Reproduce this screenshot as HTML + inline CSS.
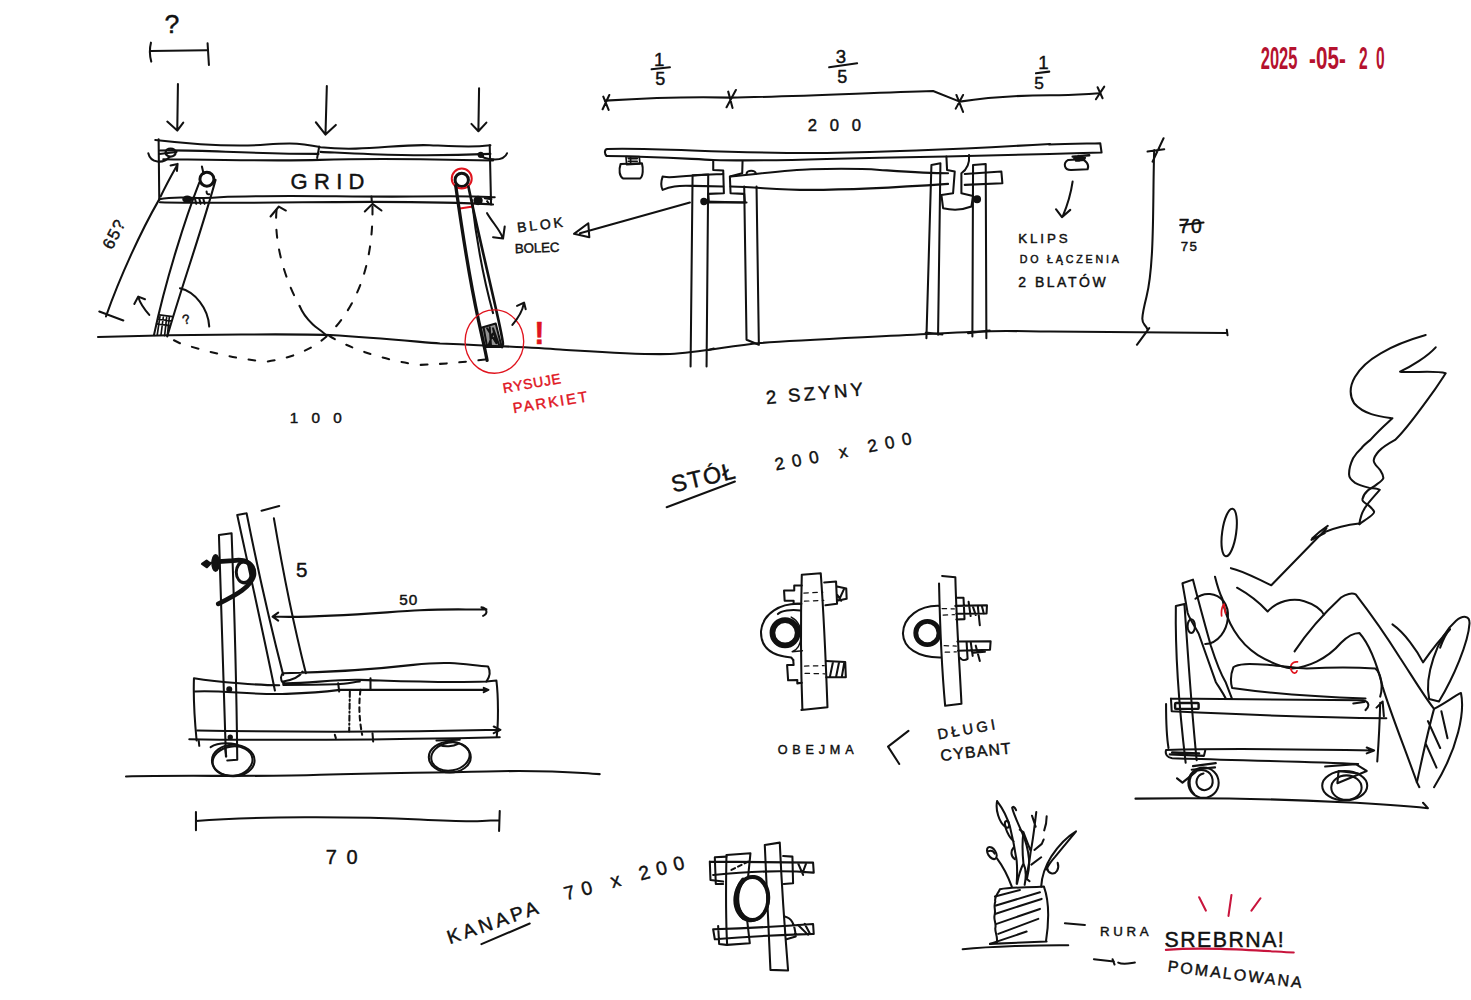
<!DOCTYPE html>
<html><head><meta charset="utf-8"><title>Szkic - stół GRID, kanapa</title>
<style>
html,body{margin:0;padding:0;background:#fff;}
svg{display:block}
.k{fill:none;stroke:#111;stroke-linecap:round;stroke-linejoin:round}
.r{fill:none;stroke:#e0141e;stroke-linecap:round;stroke-linejoin:round}
.d{stroke-dasharray:22 22}
.d2{stroke-dasharray:24 36}
text{font-family:"Liberation Sans","DejaVu Sans",sans-serif;fill:#111;stroke:#111}
.rt{fill:#e0141e;stroke:#e0141e}
</style></head>
<body>
<svg width="1471" height="1000" viewBox="0 0 1471 1000">
<rect width="1471" height="1000" fill="#fff"/>
<g class="k">
<g transform="translate(0,0) scale(1.00000)" stroke-width="2.05">
<path d="M98,337 C200,334 300,334 330,335 C380,338 420,342 440,343.5 C500,346 540,348 560,349.5 C600,352 640,355 670,354 C700,352 730,346 760,343 C800,340 850,338 927,334 S1000,331 1050,331.5 S1150,332 1226,333"/>

</g>
<g transform="translate(80,0) scale(0.33311)" stroke-width="6.15">
<text stroke-width="1.35" x="254" y="98" font-size="80">?</text>
<path d="M213,128 Q206,155 214,185 M212,153 L380,151 M383,130 L387,195"/>
<path d="M294,252 L292,390 M262,365 L292,392 L310,368"/>
<path d="M741,258 L737,402 M708,367 L737,404 L768,375"/>
<path d="M1198,265 L1196,392 M1175,372 L1196,394 L1220,368"/>
<!-- blat -->
<path d="M226,420 C330,432 450,442 560,434 S680,436 722,442 C850,456 950,432 1050,436 S1180,442 1232,436"/>
<path d="M240,452 C350,448 500,462 716,462 M722,456 C850,462 1000,472 1232,462"/>
<path d="M250,478 C400,480 600,484 720,480 S1000,476 1240,482"/>
<path d="M718,440 L712,474"/>
<path d="M236,418 L238,600 M1230,436 L1234,614"/>
<path d="M205,460 C212,490 250,492 268,472 M238,462 L290,456"/><ellipse cx="272" cy="458" rx="15" ry="12" stroke-width="7"/>
<path d="M1196,464 C1215,480 1272,488 1282,460 M1196,462 l14,6" />
<circle cx="1203" cy="465" r="6" fill="#111"/>
<!-- box bottom -->
<path d="M238,598 C300,585 350,600 420,592 C600,584 800,592 1000,590 S1200,590 1245,592"/>
<path d="M240,607 C400,612 700,606 880,606 S1150,608 1240,614"/>
<path d="M875,590 L876,606"/>
<ellipse cx="322" cy="598" rx="12" ry="8" fill="#111"/>
<path d="M345,596 l4,16 M358,596 l4,16 M370,596 l4,16"/>
<circle cx="1195" cy="602" r="11" fill="#111"/>
<path d="M1215,595 l20,3 M1222,604 l6,8"/>
<!-- left leg -->
<circle cx="381" cy="538" r="21" stroke-width="9"/>
<path d="M366,500 L371,522 M380,575 q0,10 8,8"/>
<path d="M358,548 C318,650 257,840 222,1006 M407,540 C366,690 302,870 262,1010"/>
<!-- dim 65 -->
<path d="M237,600 C185,690 120,830 78,950 M58,935 L130,962"/>
<path d="M242,590 C258,555 275,525 292,495 M272,497 L293,492 L291,513"/>
<text stroke-width="1.35" transform="translate(96,752) rotate(-63)" font-size="50" letter-spacing="4">65?</text>
<!-- dashed arcs -->
<path class="d2" d="M590,630 C582,720 610,830 660,920"/>
<path d="M660,920 C672,950 690,965 700,975 S730,995 740,1008"/>
<path class="d2" d="M878,620 C880,760 850,900 745,1006"/>
<path d="M572,650 L597,620 L618,632 M855,635 L878,612 L905,632"/>
<text stroke-width="1.35" x="632" y="566" font-size="66" textLength="222">GRID</text>
<!-- right leg -->
<circle cx="1146" cy="540" r="20" stroke-width="9"/>
<circle class="r" cx="1146" cy="536" r="30" stroke-width="6"/>
<path class="r" d="M1140,626 L1180,620 L1176,606" stroke-width="6"/>
<path stroke-width="10" d="M1128,558 C1148,700 1172,850 1196,960 S1216,1050 1222,1082"/>
<path stroke-width="8" d="M1166,560 C1195,700 1232,850 1256,960 S1264,1020 1267,1042"/>
<path d="M1176,600 C1190,720 1215,850 1240,940"/>
<path d="M1222,640 C1240,670 1260,690 1268,712 M1240,712 L1270,716 L1275,680"/>
<text stroke-width="1.35" transform="translate(1314,698) rotate(-7)" font-size="42" textLength="138">BLOK</text>
<text stroke-width="1.35" transform="translate(1306,760) rotate(-2)" font-size="40" textLength="134">BOLEC</text>

</g>
<g transform="translate(80,200) scale(0.33311)" stroke-width="6.15">
<!-- foot hatch left -->
<path d="M238,345 L278,350 M234,358 L274,363 M230,372 L270,377 M240,350 L232,404 M250,352 L243,406 M260,353 L254,407 M268,353 L262,408" stroke-width="5"/>
<path d="M208,345 C195,330 182,315 175,292 M163,312 L175,290 L195,298"/>
<path d="M300,265 C345,275 385,325 388,380"/>
<text stroke-width="1.35" x="308" y="372" font-size="40" transform="rotate(-15 320 360)">?</text>
<path style="stroke-dasharray:20 38" d="M740,410 C700,445 640,475 560,485 C470,478 380,455 300,430 L264,412"/>
<path style="stroke-dasharray:20 38" d="M748,408 C800,440 900,480 1020,495 C1100,492 1160,486 1220,478"/>
<ellipse class="r" cx="1244" cy="425" rx="88" ry="95" stroke-width="4"/>
<path d="M1202,384 L1248,371 L1266,441 L1213,441 Z" style="fill:#111;fill-opacity:.45" stroke-width="6"/><path d="M1212,385 L1222,440 M1222,385 L1250,430 L1240,385 L1258,435 M1225,440 L1240,400 M1230,382 L1234,440" stroke-width="6"/>
<path d="M1298,375 C1315,355 1328,335 1332,312 M1312,318 L1333,308 L1338,328"/>
<text stroke-width="1.35" class="rt" x="1364" y="432" font-size="92" font-weight="bold">!</text>
<text stroke-width="1.35" class="rt" transform="translate(1272,580) rotate(-10)" font-size="42" textLength="176">RYSUJE</text>
<text stroke-width="1.35" class="rt" transform="translate(1302,640) rotate(-9)" font-size="44" textLength="225">PARKIET</text>
<text stroke-width="1.35" x="630" y="668" font-size="46" textLength="156">100</text>

</g>
<g transform="translate(560,30) scale(0.33311)" stroke-width="6.15">
<text stroke-width="1.35" x="282" y="108" font-size="56">1</text><path d="M275,118 L330,112"/><text stroke-width="1.35" x="286" y="166" font-size="54">5</text>
<text stroke-width="1.35" x="828" y="100" font-size="56">3</text><path d="M808,112 L892,100"/><text stroke-width="1.35" x="832" y="160" font-size="54">5</text>
<path d="M135,212 C250,205 400,200 510,203 C700,200 900,190 1120,183 L1200,215 C1300,200 1400,196 1471,196 S1580,192 1622,190"/>
<path d="M128,238 L148,195 M130,200 L146,240 M500,232 L528,180 M505,185 L518,234 M1188,236 L1210,195 M1190,195 L1210,246"/>
<text stroke-width="1.35" x="744" y="302" font-size="50" textLength="160">200</text>
<!-- top -->
<path d="M140,378 C132,370 134,358 142,357 C300,352 500,372 800,369 C1000,366 1200,358 1471,342"/>
<path d="M140,378 C300,380 400,388 460,390 S700,390 800,387 S1100,382 1160,380 S1300,376 1471,372"/>
<!-- clip left -->
<path d="M182,402 C176,420 178,440 190,446 L240,446 C250,440 250,415 246,400 Z"/>
<path d="M198,380 L238,380 L240,402 L200,404 Z M205,386 L232,386 M205,394 L232,394 M212,380 L212,402" stroke-width="5"/>
<!-- rail left -->
<path d="M460,392 L460,420 L490,422 L492,490 L445,492 L447,518 L555,518 L553,492 L512,490 L510,440 L547,430 L548,395"/>
<path d="M560,432 a12,8 0 0 1 28,0"/>
<!-- beam -->
<path d="M490,432 C450,434 400,436 360,440 S320,442 308,440 C303,455 303,470 308,480 C330,470 350,466 400,468 L490,470"/>
<path d="M512,440 C600,432 680,420 754,418 S900,416 960,420 S1100,430 1165,430 M512,470 C600,472 650,480 750,480 S1050,470 1165,462"/>
<path d="M1215,432 L1325,425 L1328,460 L1215,465"/>
<!-- legs -->
<path d="M398,436 L392,1010 M445,434 L440,1010 M398,436 L445,434 M440,962 l22,-6"/>
<path d="M553,470 L560,930 L597,945 L590,470"/>
<path d="M1100,925 L1115,405 L1142,400 L1135,915 M1098,908 l50,6"/>
<path d="M1238,920 L1240,405 L1278,402 L1280,925 M1225,910 l65,-8" />
<!-- rail right -->
<path d="M1160,380 L1162,420 L1185,425 L1180,490 L1145,495 L1150,535 C1180,542 1210,540 1235,530 L1240,498 L1205,490 L1205,430 C1220,420 1230,400 1228,375"/>
<circle cx="432" cy="515" r="8" fill="#111"/><circle cx="1252" cy="508" r="9" fill="#111"/>
<path d="M432,515 L560,518"/>
<path d="M390,518 L60,610 M85,580 L42,612 L88,622 Z"/>

</g>
<g transform="translate(981,30) scale(0.33311)" stroke-width="6.15">
<text stroke-width="1.35" x="172" y="118" font-size="56">1</text><path d="M165,130 L205,125"/><text stroke-width="1.35" x="160" y="176" font-size="52">5</text>
<path d="M345,208 L370,170 M350,172 L365,205"/>
<path d="M205,344 C260,342 320,341 358,340 L362,368 C320,369 250,371 205,372"/>
<path d="M262,390 C245,400 250,420 270,420 L320,418 C326,405 315,390 300,388 Z"/>
<path d="M275,380 L325,376 M280,386 L312,384 M285,392 L310,390 M292,378 l4,14" stroke-width="7"/>
<path d="M275,455 C270,490 262,520 245,560 M225,538 L243,562 L268,540"/>
<text stroke-width="1.35" x="112" y="638" font-size="40" textLength="148">KLIPS</text>
<text stroke-width="1.35" x="116" y="698" font-size="32" textLength="298">DO ŁĄCZENIA</text>
<text stroke-width="1.35" x="112" y="772" font-size="42" textLength="262">2 BLATÓW</text>
<path d="M520,360 C515,500 522,700 497,800 S490,870 500,900 M500,365 L550,358 M515,395 L548,325 M468,945 L505,895 M738,900 L740,916"/>
<text stroke-width="1.35" x="594" y="608" font-size="58" letter-spacing="4">70</text><path d="M598,586 L668,578"/>
<text stroke-width="1.35" x="600" y="664" font-size="40" letter-spacing="4">75</text>
<g font-size="92" font-weight="bold">
<text stroke-width="1.35" class="rt" style="fill:#b5122e;stroke:none" x="840" y="117" textLength="110" lengthAdjust="spacingAndGlyphs">2025</text>
<text stroke-width="1.35" class="rt" style="fill:#b5122e;stroke:none" x="985" y="117" textLength="110" lengthAdjust="spacingAndGlyphs">-05-</text>
<text stroke-width="1.35" class="rt" style="fill:#b5122e;stroke:none" x="1135" y="117" textLength="26" lengthAdjust="spacingAndGlyphs">2</text>
<text stroke-width="1.35" class="rt" style="fill:#b5122e;stroke:none" x="1186" y="117" textLength="26" lengthAdjust="spacingAndGlyphs">0</text>
</g>

</g>
<g transform="translate(620,350) scale(0.33311)" stroke-width="6.15">
<text stroke-width="1.35" transform="translate(440,162) rotate(-5)" font-size="56" textLength="292">2 SZYNY</text>
<text stroke-width="1.35" transform="translate(160,428) rotate(-13)" font-size="70" letter-spacing="4">STÓŁ</text>
<path d="M140,472 L345,395"/>
<text stroke-width="1.35" transform="translate(468,362) rotate(-11)" font-size="52" textLength="418">200 x 200</text>

</g>
<g transform="translate(730,560) scale(0.20394)" stroke-width="10.05">
<!-- left clamp -->
<path d="M352,72 C346,300 346,500 355,735 M352,72 L445,65 C462,300 470,500 478,722 L350,735"/>
<path d="M345,215 C250,210 160,260 152,350 C150,430 200,470 300,478 L310,490 M345,248 C300,240 250,250 235,265"/>
<path d="M352,125 L315,125 L315,150 L265,150 L268,200 L312,200 L312,215 L350,215"/>
<path d="M310,490 L312,515 L280,515 L285,590 L330,588 L330,605 L352,602"/>
<circle cx="270" cy="357" r="62" stroke-width="28"/>
<path d="M300,280 C340,300 350,340 348,380 C345,420 330,440 305,450 L355,445" stroke-width="7"/>
<path d="M462,110 L520,105 L525,215 L468,222 M525,130 L570,140 L572,190 L525,200 M535,195 L560,140 M545,200 L525,170"/>
<path class="d" stroke-width="6" d="M362,162 L455,158 M365,202 L460,198 M365,520 L462,518 M368,556 L465,558"/>
<path d="M470,495 L565,500 L568,575 L472,575 M490,572 L505,500 M520,574 L535,500 M548,574 L560,505"/>
<!-- right clamp -->
<path d="M1030,225 C930,220 850,280 848,360 C850,430 920,480 1035,478"/>
<circle cx="968" cy="358" r="57" stroke-width="24"/>
<path d="M1025,115 C1030,350 1040,550 1055,715 L1135,705 C1125,500 1110,300 1105,85 L1040,78" style="fill:#fff"/>
<path d="M1110,185 L1145,185 L1150,290 L1110,292 M1105,225 L1260,222 L1258,262 L1110,264 M1170,205 L1180,275 M1190,225 L1205,270 M1215,225 L1225,320 M1235,225 L1245,265"/>
<path d="M1115,400 L1278,398 L1275,440 L1118,445 M1125,400 L1160,400 L1165,485 C1150,495 1135,490 1128,480 M1180,400 L1190,470 M1205,420 L1225,495 M1195,455 L1250,450"/>
<path class="d" stroke-width="6" d="M1040,238 L1100,240 M1045,270 L1100,268 M1050,420 L1110,422 M1055,452 L1110,450"/>
<text stroke-width="2.21" x="234" y="952" font-size="62" textLength="372">OBEJMA</text>
<path d="M875,838 L775,915 L830,1000"/>
<text stroke-width="2.21" transform="translate(1022,880) rotate(-10)" font-size="72" textLength="285">DŁUGI</text>
<text stroke-width="2.21" transform="translate(1035,985) rotate(-6)" font-size="78" letter-spacing="6">CYBANT</text>

</g>
<g transform="translate(120,490) scale(0.33311)" stroke-width="6.15">
<path d="M297,135 L335,130 M297,135 C305,400 310,600 318,800 M335,130 C345,400 350,600 352,810 L322,812"/>
<path d="M352,75 L380,70 M352,75 C390,250 430,430 465,602 M380,70 C410,220 450,400 490,555"/>
<path d="M425,62 L478,48 M462,85 C490,250 520,400 558,550"/>
<path d="M490,550 C600,548 750,540 880,525 S1050,528 1105,530 C1113,545 1111,560 1100,575 C950,580 800,572 720,570 S560,582 490,580 C480,570 482,555 490,550 M490,575 C520,570 540,560 548,545"/>
<path d="M230,752 C225,700 220,620 222,565 C300,578 420,586 478,586 M490,585 C560,585 620,584 650,583 S700,577 720,575 M1100,575 L1130,572 C1136,620 1136,700 1131,740"/>
<path d="M225,605 C300,600 400,616 500,612 S620,605 660,600 L1105,600 M1092,594 L1106,600 L1092,607"/>
<path d="M232,722 C400,725 800,728 1140,720 M1122,710 L1142,720 L1122,730 M208,748 C400,752 800,750 1140,742 M236,750 l2,18"/>
<path d="M690,605 L688,725" style="stroke-dasharray:16 8 4 8"/><path d="M655,580 L658,605 M752,565 L752,600 M645,735 l3,10 M758,730 L760,755"/>
<path class="d" d="M722,600 C715,650 720,700 727,735" style="stroke-dasharray:14 12"/>
<ellipse cx="340" cy="812" rx="64" ry="47"/><ellipse cx="338" cy="814" rx="60" ry="44" transform="rotate(-8 338 814)"/>
<path d="M272,772 C290,760 320,758 352,764 M315,770 l4,30"/>
<ellipse cx="990" cy="802" rx="63" ry="46"/><ellipse cx="992" cy="800" rx="58" ry="42" transform="rotate(-10 992 800)"/>
<path d="M950,752 L1020,750 M958,765 C975,772 1000,770 1015,762"/>
<ellipse cx="372" cy="247" rx="22" ry="30" stroke-width="7"/><ellipse cx="374" cy="246" rx="27" ry="35" stroke-width="5"/>
<path d="M295,215 L340,212 C380,205 405,225 402,255 C395,290 350,315 295,342" stroke-width="14"/>
<path d="M250,222 L298,215"/><path d="M246,222 L260,212 L272,221 L261,232 Z" style="fill:#111"/>
<ellipse cx="287" cy="219" rx="10" ry="24" style="fill:#111"/>
<circle cx="328" cy="598" r="6" fill="#111"/><circle cx="331" cy="742" r="5" fill="#111"/>
<text stroke-width="1.35" x="528" y="262" font-size="62">5</text>
<text stroke-width="1.35" x="838" y="345" font-size="46" letter-spacing="3">50</text>
<path d="M460,380 C600,386 800,366 900,361 S1050,360 1100,358 M475,368 L458,380 L475,392 M1085,352 C1102,355 1106,370 1090,378"/>
<path d="M18,860 C200,855 400,862 600,855 S900,850 1100,845 S1350,848 1440,853"/>

</g>
<g transform="translate(120,667) scale(0.33311)" stroke-width="6.15">
<path d="M228,435 L228,490 M1140,432 L1138,492 M228,462 C400,448 700,448 900,458 S1050,462 1138,460"/>
<text stroke-width="1.35" x="618" y="590" font-size="60" textLength="95">70</text>
<text stroke-width="1.35" transform="translate(990,832) rotate(-19)" font-size="58" textLength="285">KANAPA</text>
<path d="M1085,832 L1230,770"/>

</g>
<g transform="translate(430,780) scale(0.33311)" stroke-width="6.15">
<text stroke-width="1.35" transform="translate(408,362) rotate(-15)" font-size="58" textLength="372">70 x 200</text>
<path d="M890,225 L962,220 L955,290 M890,225 C888,330 888,420 892,495 L960,490 L952,420"/>
<path d="M1005,195 L1050,188 M1005,195 C1012,350 1018,470 1022,570 L1075,572 C1065,450 1055,300 1050,188"/>
<ellipse cx="968" cy="356" rx="47" ry="64" stroke-width="11"/><ellipse cx="966" cy="356" rx="52" ry="68" transform="rotate(6 966 356)"/><path d="M940,300 C915,330 915,385 940,412" stroke-width="14"/>
<path d="M840,245 L1150,248 L1152,278 M850,285 C950,275 1050,270 1150,278 M840,245 L842,300 L880,305 M1105,250 L1120,285 M1130,248 L1118,280"/>
<path d="M890,230 L855,232 L858,312 L880,312 M1060,228 L1088,230 L1090,310 L1062,312"/>
<path d="M850,448 C950,445 1050,440 1150,432 L1152,462 M855,478 C950,470 1050,465 1150,462 M850,448 L855,478 M865,438 L868,492 L890,495 M1065,410 C1085,415 1095,430 1098,470 L1070,478 M1105,435 L1135,465 M1125,432 L1140,460"/>
<path class="d" d="M905,270 L955,245" style="stroke-dasharray:12 10"/>

</g>
<g transform="translate(940,780) scale(0.33311)" stroke-width="6.15">
<path d="M180,328 C172,345 162,350 166,365 C160,380 168,390 164,405 C160,420 170,430 166,445 C165,460 175,470 170,490 M180,328 C220,320 270,324 312,320 C330,370 325,440 318,485 M150,492 L320,485"/>
<path d="M165,350 L240,330 M168,377 L300,337 M165,402 L305,357 M170,432 L300,387 M175,462 L295,417 M150,492 L260,455"/>
<path d="M68,508 C150,500 300,495 385,496"/>
<path d="M375,430 L435,435"/>
<text stroke-width="1.35" x="480" y="468" font-size="40" textLength="146">RURA</text>
<text stroke-width="1.35" x="674" y="500" font-size="64" textLength="358">SREBRNA!</text>
<path class="r" d="M678,510 C800,500 950,512 1062,518 M778,352 L798,392 M875,345 L866,408 M962,355 L935,392" style="stroke:#c8143c"/>
<path d="M462,538 L522,545 M518,538 l6,16 M535,548 C550,556 570,550 585,548"/>
<text stroke-width="1.35" transform="translate(682,575) rotate(7)" font-size="48" textLength="405">POMALOWANA</text>

</g>
<g transform="translate(950,790) scale(0.12237)" stroke-width="16.75">
<path d="M385,90 C370,160 400,260 450,300 M385,90 C430,150 470,230 490,300 C510,380 530,480 545,580 C552,660 548,720 545,765 M455,310 C470,360 500,400 520,420"/>
<ellipse cx="466" cy="280" rx="17" ry="28" transform="rotate(-10 466 280)"/>
<path d="M540,165 C530,140 515,130 508,145 C520,200 560,280 590,350 C620,420 640,500 645,560 C650,620 640,680 630,720 M520,470 C495,500 495,540 530,565"/>
<ellipse cx="342" cy="515" rx="32" ry="55" transform="rotate(-32 342 515)"/><path d="M315,500 C335,490 355,500 365,520"/>
<path d="M385,560 C430,620 480,720 505,790"/>
<path d="M548,765 C560,700 580,640 600,600 C620,640 625,700 610,775 M600,600 C590,500 590,420 600,345 L570,325 M600,345 C620,400 640,450 660,500 C680,400 690,300 705,180 M670,210 L700,300 M660,500 C650,580 640,650 620,720 L650,745 M690,490 L750,440 L765,405 M665,610 L745,550 M770,330 C785,290 790,250 790,215"/>
<path d="M745,790 C750,700 780,620 830,540 C890,450 960,380 1030,338 C980,400 920,470 860,545 C820,590 800,620 790,650 M795,640 C800,680 850,700 875,660 C890,635 885,610 880,595"/>

</g>
<g transform="translate(981,310) scale(0.33311)" stroke-width="6.15">
<path d="M1136,643 C1138,625 1145,605 1154,592 C1165,575 1180,560 1197,540 C1190,535 1175,536 1166,534 C1150,530 1135,526 1123,519 C1110,510 1104,500 1105,491 C1105,475 1110,460 1117,445 C1125,432 1132,424 1142,415 C1150,405 1160,397 1169,390 C1200,355 1225,335 1235,325 C1200,320 1150,315 1120,280 C1090,230 1130,170 1200,130 C1250,100 1300,85 1335,75"/>
<path d="M1136,643 C1145,636 1152,632 1160,626 C1170,618 1182,612 1180,605 C1176,597 1170,592 1163,586 C1155,580 1143,575 1145,568 C1147,558 1152,550 1160,543 C1167,537 1175,533 1182,528 C1192,520 1206,512 1208,504 C1208,494 1202,487 1197,479 C1190,470 1178,462 1179,451 C1180,440 1187,432 1194,424 C1205,412 1225,400 1243,390 C1268,368 1300,325 1340,270 C1370,230 1385,205 1395,190 C1360,180 1290,190 1258,185 C1290,170 1340,140 1365,112"/>
<path d="M1135,641 C1100,645 1060,655 1030,667 M1041,648 C1020,662 1005,675 994,686 M1032,670 L992,690"/>
<ellipse cx="745" cy="668" rx="21" ry="72" transform="rotate(8 745 668)"/>

</g>
<g transform="translate(1111,540) scale(0.24473)" stroke-width="8.38">
<path d="M490,115 C540,125 600,160 655,185 L840,-5 C850,-15 870,-35 880,-48"/>
<path d="M425,150 C435,190 445,220 455,240 C470,330 520,420 600,470 C650,500 700,520 740,525 C800,520 880,490 940,420 C970,390 1000,380 1015,380 C1060,430 1090,520 1110,600 C1140,700 1200,850 1250,990"/>
<path d="M515,195 C560,220 610,260 640,292 C680,250 740,235 790,250 C830,262 860,285 870,305"/>
<path d="M750,455 C800,380 870,300 940,235 C960,220 985,215 1000,222 C1060,300 1130,400 1180,480 C1220,540 1280,640 1320,690"/>
<path d="M1150,345 C1200,380 1250,450 1275,500 C1310,450 1350,400 1385,365"/>
<path d="M1300,650 C1280,560 1330,400 1410,330 C1440,305 1466,310 1465,340 C1460,420 1400,560 1340,660 L1300,650 M1345,440 C1360,400 1375,375 1385,365"/>
<path d="M1320,690 C1360,670 1400,640 1430,625 C1446,700 1420,850 1320,1010 M1250,990 C1270,900 1290,800 1320,690 M1295,740 L1345,850 M1350,700 L1375,810 M1285,830 L1330,930 M1250,990 L1260,1010"/>
<!-- sofa -->
<path d="M292,177 L335,162 C360,260 385,350 408,432 C430,500 450,550 468,580 L495,650 L470,650 C455,620 440,600 428,580 C400,500 375,430 358,382 C335,340 320,320 313,297 Z"/>
<path d="M265,270 L300,262 M265,270 C262,450 280,700 305,910 M300,262 C310,400 325,650 350,900"/>
<path d="M345,240 C380,210 430,215 460,250 C490,290 480,350 450,390 C430,415 405,425 385,425"/>
<ellipse cx="328" cy="352" rx="15" ry="28"/>
<path class="r" d="M452,310 C450,290 455,270 462,262 L468,300 M762,498 C740,495 728,515 738,535 C745,548 758,545 760,535" stroke-width="7"/>
<path d="M500,520 C520,505 560,505 640,510 C700,515 760,525 800,525 C900,520 1000,520 1080,525 C1105,545 1112,600 1100,640 M500,520 C490,545 488,580 495,605 C600,620 800,640 1040,648"/>
<path d="M245,648 L1030,655 C1055,660 1058,680 1040,695 M990,668 L1035,662 M245,648 L248,700 C500,712 800,725 1125,728"/>
<rect x="262" y="666" width="96" height="24" rx="4" stroke-width="10"/>
<path d="M225,670 C225,750 230,820 235,850 M1100,665 C1098,750 1092,850 1088,905 M1085,685 L1110,660 L1115,720"/>
<path d="M225,858 C500,850 800,855 1075,860 M1045,848 L1075,860 L1045,872 M225,858 C220,875 230,890 250,892 C500,900 800,905 1010,915 M240,876 L380,882 L385,860" />
<path d="M250,868 L360,872" stroke-width="10"/>

</g>
<g transform="translate(1111,700) scale(0.24473)" stroke-width="8.38">
<circle cx="378" cy="338" r="62"/><path d="M378,300 C350,305 340,340 360,360 C385,380 420,360 415,325 C410,290 370,275 340,295 C315,315 315,360 340,385"/>
<path d="M335,270 L428,258 M330,285 L425,275 M270,320 L292,338 L345,295" stroke-width="9"/>
<ellipse cx="955" cy="350" rx="92" ry="60"/><ellipse cx="962" cy="358" rx="62" ry="50"/>
<path d="M875,272 L1000,262 L1045,290 L925,340 L930,290 L1010,300"/>
<path d="M100,403 C400,398 700,405 950,418 C1100,425 1200,432 1295,442 L1275,420"/>

</g>
</g>
</svg>
</body></html>
